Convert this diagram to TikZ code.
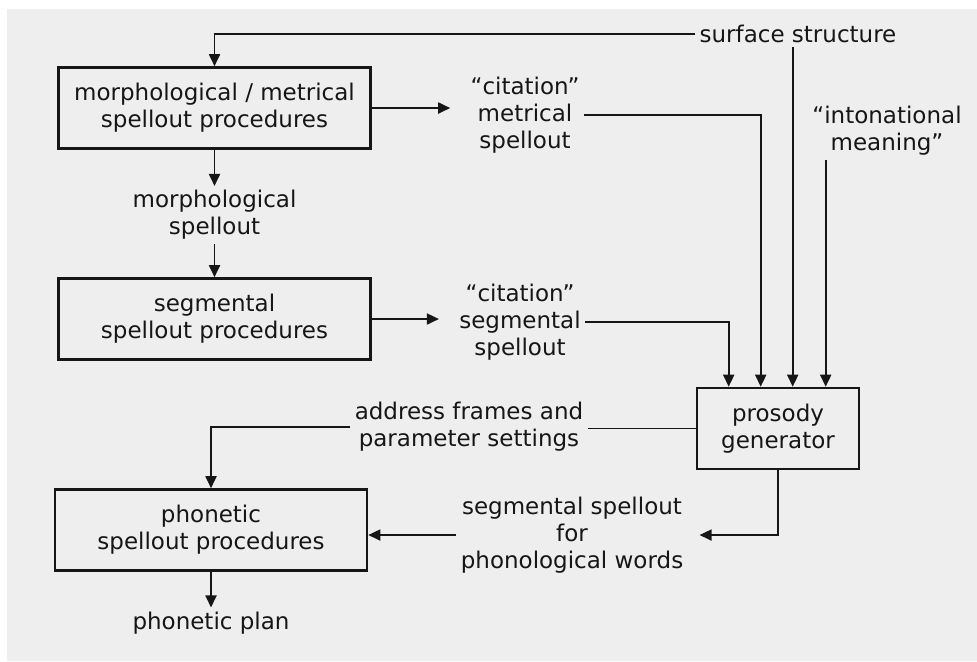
\documentclass[tikz,border=0pt]{standalone}
\usepackage{fontspec}
\setmainfont{DejaVu Sans}
\usetikzlibrary{positioning, arrows.meta}
\definecolor{PaperBg}{RGB}{238,238,238}
\definecolor{Ink}{RGB}{22,22,22}

\begin{document}
\begin{tikzpicture}[x=0.5pt,y=-0.5pt,
        font=\fontsize{11.5}{13.5}\selectfont,
        procbox/.style={draw=Ink, line width=1.3pt, minimum width=156pt, minimum height=40.5pt, align=center, text=Ink},
        flowtext/.style={align=center, inner sep=2pt, text=Ink},
        feed/.style={draw=Ink, line width=0.9pt, -{Triangle[length=6pt,width=5.5pt]}},
        wire/.style={draw=Ink, line width=0.9pt}]
            \useasboundingbox (0,0) rectangle (977,661);
            \fill[white] (0,0) rectangle (977,661);
            \fill[PaperBg] (7,9) rectangle (977,661);

            \node[procbox] (morphbox) at (214.5,108) {morphological / metrical\\spellout procedures};
            \node[procbox] (segbox) at (214.5,319) {segmental\\spellout procedures};
            \node[procbox] (phonbox) at (211,530) {phonetic\\spellout procedures};
            \node[procbox, minimum width=81pt] (prosbox) at (778,428.5) {prosody\\generator};

            \node[flowtext] (surf) at (798,34) {surface structure};
            \node[flowtext] (citmet) at (525,115) {“citation”\\metrical\\spellout};
            \node[flowtext] (intmean) at (887,131) {“intonational\\meaning”};
            \node[flowtext] (morphsp) at (214.5,215) {morphological\\spellout};
            \node[flowtext] (citseg) at (520,322) {“citation”\\segmental\\spellout};
            \node[flowtext] (addr) at (469,427) {address frames and\\parameter settings};
            \node[flowtext] (segsp) at (572,535) {segmental spellout\\for\\phonological words};
            \node[flowtext] (plan) at (211,623) {phonetic plan};

            \coordinate (in1) at ([xshift=16.5pt]prosbox.north west);
            \coordinate (in2) at ([xshift=32.5pt]prosbox.north west);
            \coordinate (in3) at ([xshift=48.5pt]prosbox.north west);
            \coordinate (in4) at ([xshift=65pt]prosbox.north west);

            \draw[feed] (surf.west) -| (morphbox.north);
            \draw[feed] (surf.south -| in3) -- (in3);
            \draw[feed] (intmean.south -| in4) -- (in4);
            \draw[feed] (citmet.east) -| (in2);
            \draw[feed] (citseg.east) -| (in1);

            \draw[feed, shorten >=8pt] (morphbox.east) -- (morphbox.east -| citmet.west);
            \draw[feed] (morphbox.south) -- (morphsp.north);
            \draw[feed] (morphsp.south) -- (segbox.north);
            \draw[feed, shorten >=8pt] (segbox.east) -- (segbox.east -| citseg.west);

            \draw[wire] (prosbox.west) -- (prosbox.west -| addr.east);
            \draw[feed] (addr.west) -| (phonbox.north);
            \draw[feed, shorten >=6pt] (prosbox.south) |- (segsp.east);
            \draw[feed] (segsp.west) -- (segsp.west -| phonbox.east);
            \draw[feed] (phonbox.south) -- (plan.north);
        \end{tikzpicture}
\end{document}
